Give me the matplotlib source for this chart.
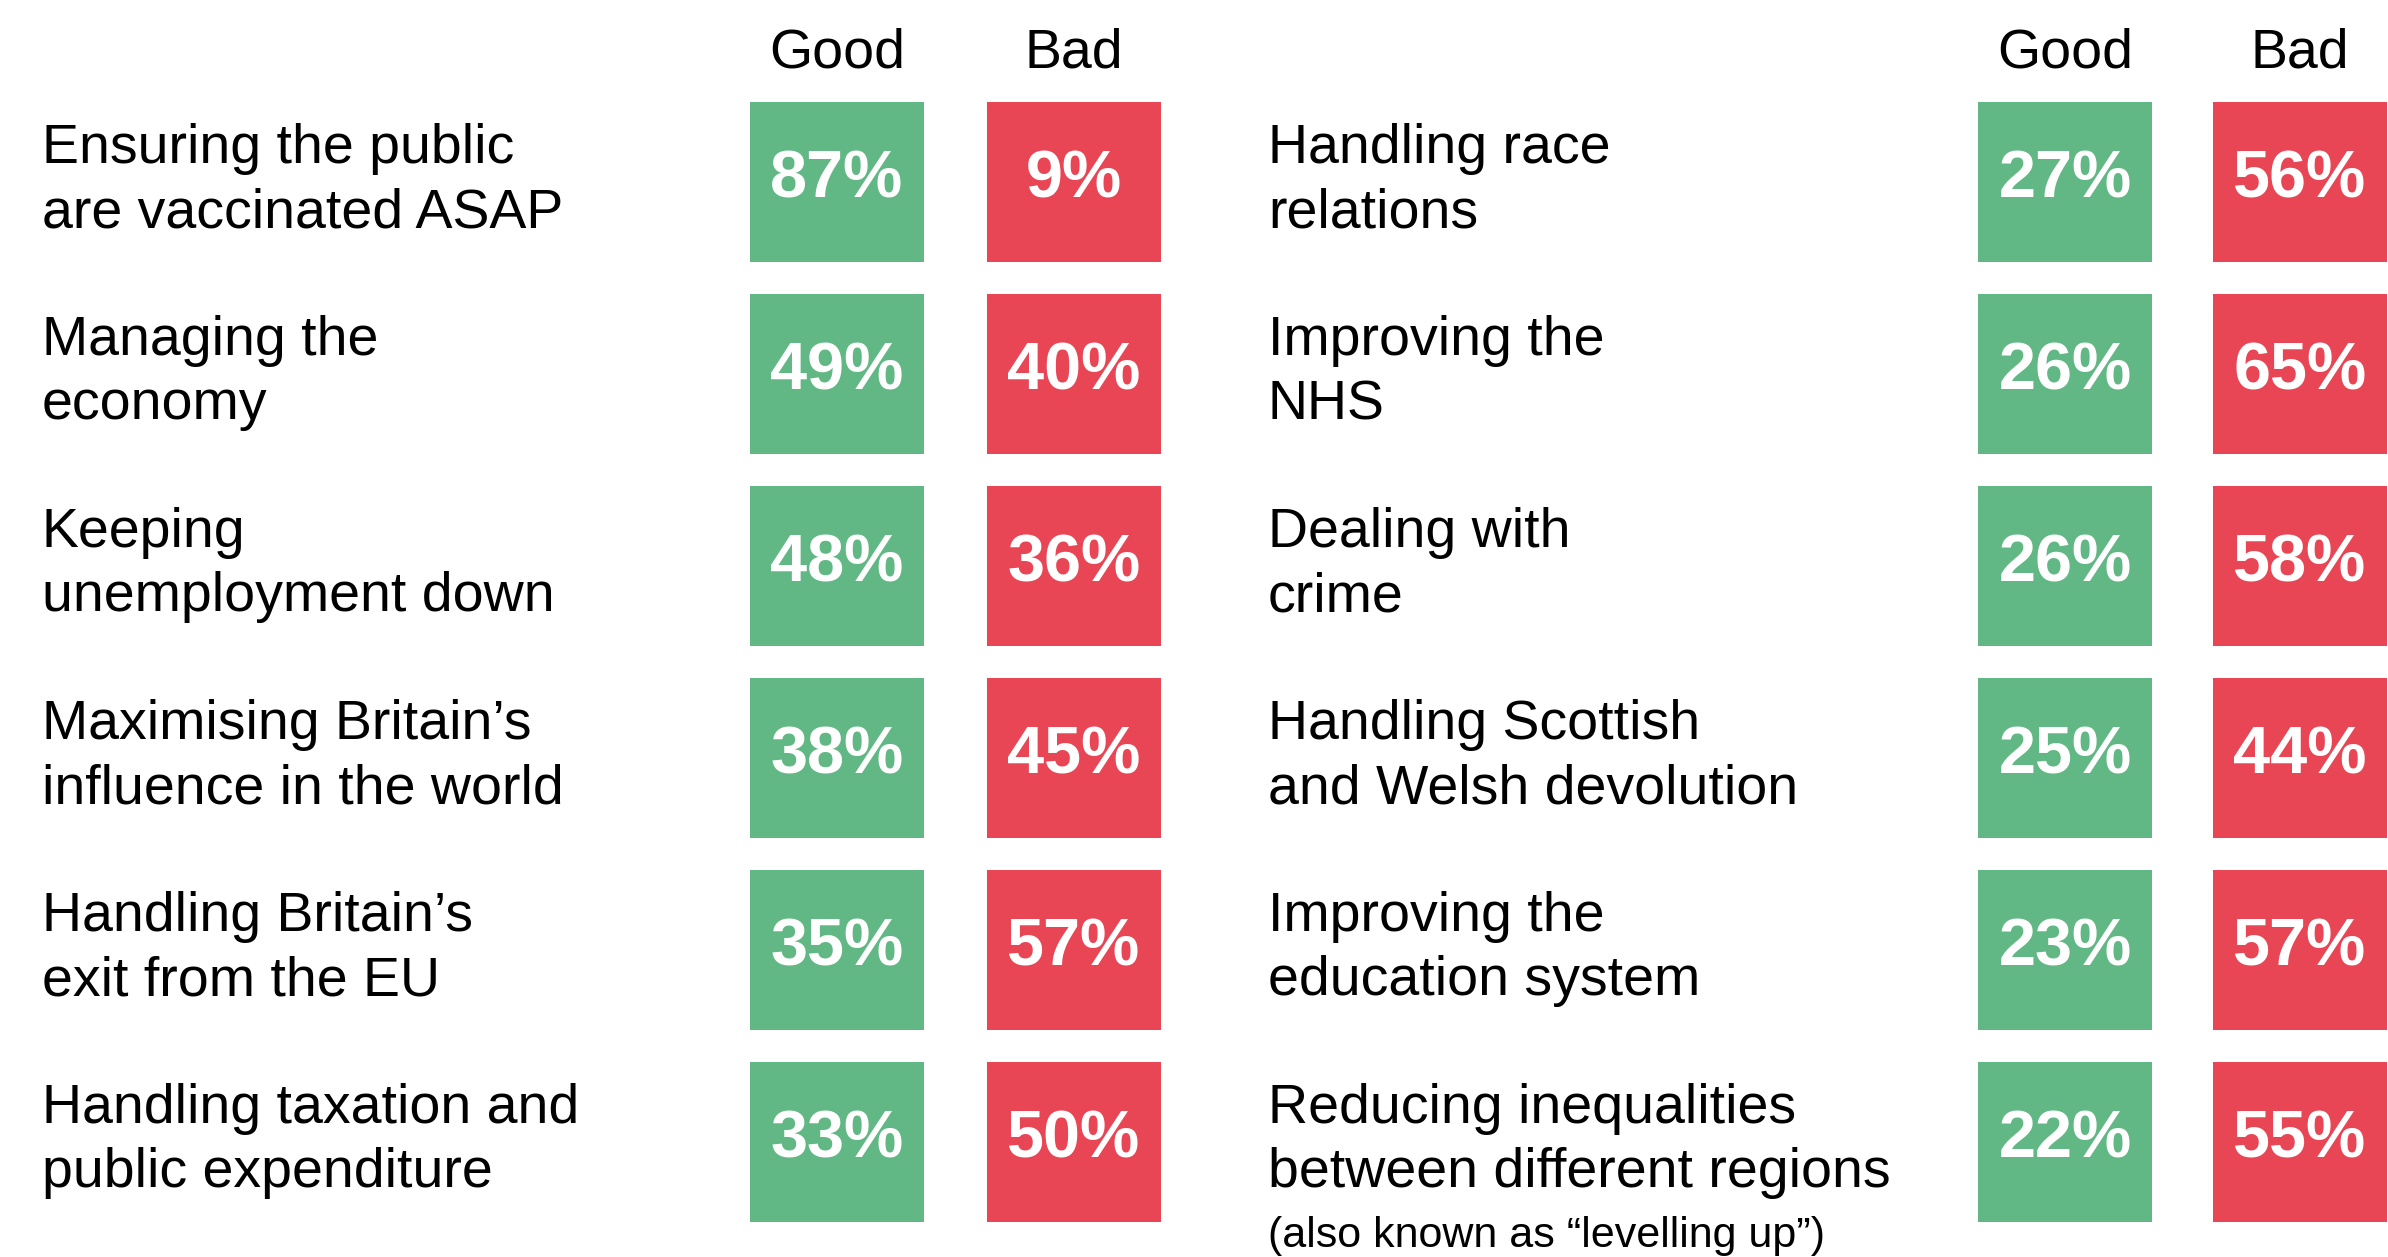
import matplotlib.pyplot as plt

# data
left_labels = [
    ["Ensuring the public", "are vaccinated ASAP"],
    ["Managing the", "economy"],
    ["Keeping", "unemployment down"],
    ["Maximising Britain\u2019s", "influence in the world"],
    ["Handling Britain\u2019s", "exit from the EU"],
    ["Handling taxation and", "public expenditure"],
]
left_good = [87, 49, 48, 38, 35, 33]
left_bad = [9, 40, 36, 45, 57, 50]

right_labels = [
    ["Handling race", "relations"],
    ["Improving the", "NHS"],
    ["Dealing with", "crime"],
    ["Handling Scottish", "and Welsh devolution"],
    ["Improving the", "education system"],
    ["Reducing inequalities", "between different regions"],
]
right_good = [27, 26, 26, 25, 23, 22]
right_bad = [56, 65, 58, 44, 57, 55]
footnote = "(also known as \u201clevelling up\u201d)"

headers = ["Good", "Bad"]

GREEN = "#62b885"
RED = "#e84555"

plt.rcParams['font.family'] = ['Liberation Sans', 'DejaVu Sans']

W, H = 2388, 1257
fig = plt.figure(figsize=(W / 100, H / 100), dpi=100)
ax = fig.add_axes([0, 0, 1, 1])
ax.set_xlim(0, W)
ax.set_ylim(H, 0)
ax.axis('off')

row_top = 102
pitch = 192
box_h = 160
box_w = 174

panels = [
    (42, 750, 987, left_labels, left_good, left_bad),
    (1268, 1978, 2213, right_labels, right_good, right_bad),
]

for label_x, good_x, bad_x, labels, good, bad in panels:
    n = len(labels)
    tops = [row_top + pitch * i for i in range(n)]
    # boxes
    ax.bar([good_x] * n, [box_h] * n, bottom=tops, width=box_w, align='edge', color=GREEN)
    ax.bar([bad_x] * n, [box_h] * n, bottom=tops, width=box_w, align='edge', color=RED)
    # headers
    for hx, h in zip([good_x, bad_x], headers):
        ax.text(hx + box_w / 2, 67, h, fontsize=40, ha='center', va='baseline')
    for t, lab, g, b in zip(tops, labels, good, bad):
        for k, line in enumerate(lab):
            ax.text(label_x, t + 61 + 64 * k, line, fontsize=40, ha='left', va='baseline')
        ax.text(good_x + box_w / 2, t + 95, f"{g}%", fontsize=48, fontweight='bold',
                color='white', ha='center', va='baseline')
        ax.text(bad_x + box_w / 2, t + 95, f"{b}%", fontsize=48, fontweight='bold',
                color='white', ha='center', va='baseline')

# footnote under the last right-hand label
ax.text(1268, row_top + pitch * 5 + 61 + 64 + 60, footnote, fontsize=31, ha='left', va='baseline')

fig.savefig("out.png", dpi=100)
